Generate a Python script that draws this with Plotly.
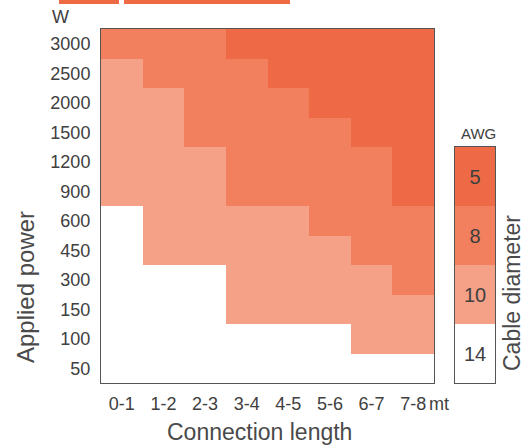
import plotly.graph_objects as go

LENGTHS = ["0-1", "1-2", "2-3", "3-4", "4-5", "5-6", "6-7", "7-8"]
POWERS = ["3000", "2500", "2000", "1500", "1200", "900", "600", "450", "300", "150", "100", "50"]
AWG_LEVELS = [14, 10, 8, 5]
AWG_GRID = [
    [8, 8, 8, 5, 5, 5, 5, 5],
    [10, 8, 8, 8, 5, 5, 5, 5],
    [10, 10, 8, 8, 8, 5, 5, 5],
    [10, 10, 8, 8, 8, 8, 5, 5],
    [10, 10, 10, 8, 8, 8, 8, 5],
    [10, 10, 10, 8, 8, 8, 8, 5],
    [14, 10, 10, 10, 10, 8, 8, 8],
    [14, 10, 10, 10, 10, 10, 8, 8],
    [14, 14, 14, 10, 10, 10, 10, 8],
    [14, 14, 14, 10, 10, 10, 10, 10],
    [14, 14, 14, 14, 14, 14, 10, 10],
    [14, 14, 14, 14, 14, 14, 14, 14],
]

W, H = 526, 446
L, R, T, B = 101, 31, 29, 63
PW, PH = W - L - R, H - T - B
FONT = "Liberation Sans, Arial, sans-serif"
TXT = "#404040"
COLORS = ["#ffffff", "#f4a188", "#f27f5e", "#ee6a47"]

level = {a: i for i, a in enumerate(AWG_LEVELS)}
n = len(COLORS)
scale = []
for i, c in enumerate(COLORS):
    scale += [[i / n, c], [(i + 1) / n, c]]


def px(x):
    return (x - L) / PW


def py(y):
    return (H - B - y) / PH


fig = go.Figure()
fig.add_heatmap(
    x=LENGTHS, y=POWERS, z=[[level[a] for a in row] for row in AWG_GRID],
    colorscale=scale, zmin=-0.5, zmax=n - 0.5, showscale=False, hoverinfo="skip",
)
fig.add_heatmap(
    x=["AWG"], y=[str(a) for a in AWG_LEVELS], z=[[level[a]] for a in AWG_LEVELS],
    text=[[str(a)] for a in AWG_LEVELS], texttemplate="%{text}",
    textfont=dict(size=20, color=TXT, family=FONT),
    colorscale=scale, zmin=-0.5, zmax=n - 0.5, showscale=False, hoverinfo="skip",
    xaxis="x2", yaxis="y2",
)

axis_line = dict(showline=True, mirror=True, linecolor="#555555", linewidth=1,
                 showgrid=False, zeroline=False)
fig.update_layout(
    width=W, height=H, margin=dict(l=L, r=R, t=T, b=B),
    paper_bgcolor="white", plot_bgcolor="white",
    font=dict(family=FONT, color=TXT),
    xaxis=dict(domain=[0, px(434)], tickfont=dict(size=18), ticks="",
               ticklabelstandoff=4, **axis_line),
    yaxis=dict(domain=[0, 1], autorange="reversed", tickfont=dict(size=18), ticks="",
               ticklabelstandoff=6, **axis_line),
    xaxis2=dict(domain=[px(455), 1], anchor="y2", showticklabels=False, ticks="", **axis_line),
    yaxis2=dict(domain=[0, py(147)], anchor="x2", showticklabels=False, ticks="", **axis_line),
    shapes=[
        dict(type="rect", xref="paper", yref="paper", x0=px(59), x1=px(119), y0=py(4), y1=py(-2),
             fillcolor="#ee6a45", line_width=0),
        dict(type="rect", xref="paper", yref="paper", x0=px(124), x1=px(290), y0=py(4), y1=py(-2),
             fillcolor="#ee6a45", line_width=0),
    ],
    annotations=[
        dict(text="W", x=px(60), y=py(17), showarrow=False, font=dict(size=18)),
        dict(text="mt", x=px(439), y=py(404), showarrow=False, font=dict(size=18)),
        dict(text="AWG", x=px(478), y=py(133), showarrow=False, font=dict(size=15)),
        dict(text="Connection length", x=px(259), y=py(432), showarrow=False,
             font=dict(size=23, color="#4a4a4a")),
        dict(text="Applied power", x=px(25), y=py(287), showarrow=False, textangle=-90,
             font=dict(size=24, color="#4a4a4a")),
        dict(text="Cable diameter", x=px(512), y=py(293), showarrow=False, textangle=-90,
             font=dict(size=23, color="#4a4a4a")),
    ],
)
for a in fig.layout.annotations:
    a.update(xref="paper", yref="paper", xanchor="center", yanchor="middle")

fig.write_html("out.html", config={"displayModeBar": False})

# drop the browser's default body margin so the figure sits at the page corner
with open("out.html", encoding="utf-8") as f:
    page = f.read()
page = page.replace("<body>", '<body style="margin:0">', 1)
with open("out.html", "w", encoding="utf-8") as f:
    f.write(page)
